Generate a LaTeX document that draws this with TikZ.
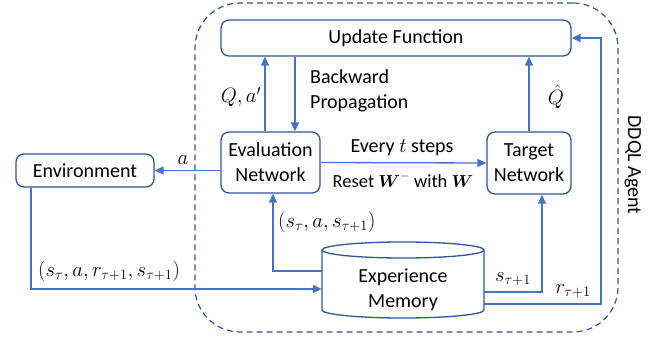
\documentclass[tikz,border=0pt]{standalone}
\usepackage{amsmath}
\usepackage{fontspec}
\setmainfont{Carlito}
\usetikzlibrary{arrows.meta,calc}
\definecolor{boxc}{HTML}{2F5597}
\definecolor{linec}{HTML}{4472C4}
\begin{document}
\begin{tikzpicture}[x=1pt,y=-1pt,
  font=\fontsize{20}{25}\selectfont,
  box/.style={draw=boxc, line width=1.3pt, rounded corners=8pt, align=center, inner sep=0pt},
  arr/.style={draw=linec, line width=1.3pt, -{Triangle[length=9pt,width=8pt]}},
  lbl/.style={inner sep=0pt},
  mlbl/.style={inner sep=0pt, font=\fontsize{21.5}{26}\selectfont}]
\useasboundingbox (0,0) rectangle (657,339);
% agent group
\node[draw=boxc, line width=1.2pt, dash pattern=on 6pt off 4pt, rounded corners=45pt,
      minimum width=423pt, minimum height=329pt, inner sep=0pt] (agent) at (406.5,167.5) {};
% nodes
\node[box, minimum width=350pt, minimum height=36pt] (upd) at (396,38) {Update Function};
\node[box, minimum width=99pt, minimum height=61pt] (eval) at (270.5,162.5) {Evaluation\\Network};
\node[box, minimum width=138pt, minimum height=33pt] (env) at (85,170.5) {Environment};
\node[box, minimum width=84pt, minimum height=62pt] (tgt) at (529,163) {Target\\Network};
\node[align=center, inner sep=0pt, minimum width=162pt, minimum height=56pt] (mem) at (403,290) {Experience\\Memory};
% cylinder
\draw[boxc, line width=1.3pt] (403,250) ellipse [x radius=81pt, y radius=8pt];
\draw[boxc, line width=1.3pt] (322,250) -- (322,310) arc[start angle=180, end angle=360, x radius=81pt, y radius=8pt] -- (484,250);
% connectors
\draw[arr] ([xshift=-5.5pt]eval.north) -- ([xshift=-5.5pt]eval.north |- upd.south);
\draw[arr] ([xshift=24.5pt]eval.north |- upd.south) -- ([xshift=24.5pt]eval.north);
\draw[arr] (eval.east) -- (tgt.west);
\draw[arr] (eval.west |- env.east) -- (env.east);
\draw[arr] (tgt.north) -- (tgt.north |- upd.south);
\draw[arr] ([xshift=-54pt]env.south) |- ([yshift=1pt]mem.west);
\draw[arr] ([yshift=19pt]mem.west) -| ([xshift=2.5pt]eval.south);
\draw[arr] ([yshift=-2pt]mem.east) -| ([xshift=13pt]tgt.south);
\coordinate (rc) at (601,38);
\draw[arr] ([yshift=-14pt]mem.east) -| (rc) -- (upd.east);
% labels
\node[mlbl] at (241,97) {$Q,a'$};
\node[lbl, anchor=west, align=left] at (310,91) {Backward\\Propagation};
\node[mlbl] at (556,97) {$\hat{Q}$};
\node[lbl] at (402,148) {Every $t$ steps};
\node[lbl, font=\fontsize{18.5}{23}\selectfont] at (403,180) {Reset $\boldsymbol{W}^{-}$ with $\boldsymbol{W}$};
\node[mlbl] at (183,160) {$a$};
\node[mlbl, anchor=west] at (278,222) {$(s_\tau, a, s_{\tau+1})$};
\node[mlbl, anchor=west] at (38,271) {$(s_\tau,a,r_{\tau+1},s_{\tau+1})$};
\node[mlbl] at (513,279) {$s_{\tau+1}$};
\node[mlbl] at (573,291) {$r_{\tau+1}$};
\node[lbl, rotate=-90] at (633,165) {DDQL Agent};
\end{tikzpicture}
\end{document}
